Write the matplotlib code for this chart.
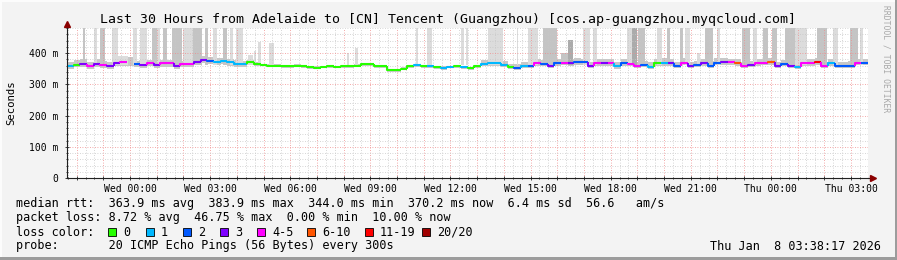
import numpy as np
import matplotlib
matplotlib.use("Agg")
import matplotlib.pyplot as plt
from matplotlib.patches import Rectangle
from matplotlib.ticker import FixedLocator, FuncFormatter

plt.rcParams['font.family'] = ['DejaVu Sans Mono']

# %% data
title = "Last 30 Hours from Adelaide to [CN] Tencent (Guangzhou) [cos.ap-guangzhou.myqcloud.com]"
end_hour = 27 + 38 / 60 + 17 / 3600      # Thu 03:38:17, hours after Wed 00:00
span_hours = 30
step_hours = 0.25

nan = np.nan
median_ms = [
    357, 363, 365, 358, 366, 362, 358, 368, 370, nan,
    366, 363, 367, 362, 367, 367, 358, 365, 364, 372,
    379, 376, 372, 373, 371, 366, 366, 370, 365, 362,
    360, 360, 357, 357, 360, 358, 355, 353, 356, 358,
    356, 358, 358, 360, 365, 365, 357, 358, 345, 345,
    350, 357, 362, 358, 357, 355, 352, 356, 358, 355,
    351, 358, 366, 367, 367, 362, 355, 352, 360, 360,
    367, 365, 358, 368, 368, 367, 370, 370, 358, 368,
    368, 367, 357, 367, 365, 358, 362, 356, 368, 368,
    367, 359, 369, 358, 362, 367, 359, 369, 370, 370,
    367, 358, 362, 367, 369, 370, 359, 365, 359, 356,
    367, 367, 370, 359, 367, 358, 358, 360, 369, 368,
]
loss_class = [
    1, 0, 3, 4, 3, 4, 3, 3, 4, 0,
    2, 3, 4, 3, 4, 4, 3, 4, 4, 3,
    3, 2, 1, 1, 1, 1, 1, 0, 0, 0,
    0, 0, 0, 0, 0, 0, 0, 0, 0, 0,
    0, 0, 0, 0, 0, 0, 0, 0, 0, 0,
    0, 0, 1, 0, 1, 0, 1, 1, 0, 1,
    0, 0, 1, 1, 1, 1, 0, 2, 1, 2,
    4, 2, 3, 2, 4, 3, 2, 2, 3, 4,
    3, 4, 1, 2, 4, 4, 2, 1, 0, 1,
    3, 2, 4, 3, 2, 3, 2, 2, 3, 4,
    5, 4, 3, 4, 4, 5, 3, 2, 3, 1,
    4, 4, 6, 4, 1, 2, 2, 2, 4, 2,
]
smoke_hi = [
    372, 378, 380, 372, 380, 376, 372, 386, 390, 388,
    376, 373, 377, 372, 377, 377, 370, 375, 374, 384,
    390, 388, 384, 384, 382, 378, 376, 378, 370, 366,
    364, 364, 361, 361, 364, 362, 359, 357, 360, 362,
    360, 362, 362, 364, 369, 369, 361, 362, 350, 350,
    355, 361, 366, 362, 361, 359, 357, 360, 362, 359,
    356, 362, 378, 379, 380, 374, 366, 364, 372, 372,
    380, 378, 370, 382, 384, 381, 383, 382, 372, 380,
    380, 381, 370, 380, 378, 372, 376, 370, 382, 384,
    380, 372, 383, 372, 376, 382, 373, 384, 384, 382,
    380, 372, 376, 380, 382, 384, 372, 378, 373, 370,
    381, 382, 384, 372, 380, 372, 371, 374, 382, 381,
]
smoke_lo = [
    350, 355, 355, 350, 356, 352, 350, 358, 360, 358,
    356, 353, 357, 352, 356, 356, 350, 355, 354, 362,
    368, 366, 362, 364, 360, 356, 356, 362, 360, 357,
    355, 355, 352, 352, 355, 353, 350, 348, 351, 353,
    351, 353, 353, 355, 360, 360, 352, 353, 340, 340,
    345, 352, 356, 353, 352, 350, 347, 351, 353, 350,
    346, 353, 358, 360, 360, 355, 349, 346, 353, 353,
    360, 358, 351, 360, 361, 360, 362, 362, 351, 360,
    360, 360, 350, 360, 358, 351, 355, 349, 360, 360,
    360, 352, 361, 351, 355, 360, 352, 361, 362, 362,
    360, 351, 355, 360, 361, 362, 352, 358, 352, 349,
    360, 360, 362, 352, 360, 351, 351, 353, 361, 361,
]

# high-latency smoke columns (hours after Wed 00:00), top in ms, shade 0 light .. 2 dark
spike_start = [-1.76, -1.35, -1.13, -0.68, -0.45, 0.11, 0.37, 0.82, 1.01, 1.23, 1.57, 1.98, 2.36,
               2.81, 3.11, 3.48, 3.74, 3.97, 4.42, 4.64, 4.79, 5.20, 8.13, 8.42, 10.71, 11.12,
               12.40, 12.58, 13.41, 14.49, 14.90, 15.47, 16.14, 16.40, 16.96, 17.34, 18.61,
               18.80, 19.02, 19.74, 20.11, 20.60, 20.78, 21.23, 21.53, 21.98, 22.92, 23.33,
               23.70, 24.04, 24.53, 24.90, 25.73, 26.33, 26.96, 27.34]
spike_end = [-1.69, -1.24, -0.94, -0.45, -0.08, 0.26, 0.63, 1.01, 1.12, 1.38, 1.95, 2.36, 2.69,
             2.92, 3.26, 3.63, 3.86, 4.23, 4.60, 4.72, 4.90, 5.39, 8.20, 8.54, 10.78, 11.31,
             12.51, 12.66, 13.97, 14.53, 15.28, 15.99, 16.40, 16.59, 17.22, 17.49, 18.80,
             18.99, 19.28, 19.92, 20.22, 20.71, 20.97, 21.34, 21.83, 22.09, 23.22, 23.48,
             23.89, 24.23, 24.90, 25.35, 26.10, 26.52, 27.26, 27.45]
spike_top = [480, 480, 480, 480, 390, 480, 480, 480, 480, 480, 480, 480, 480,
             480, 480, 480, 480, 480, 394, 407, 436, 431, 400, 416, 480, 480,
             480, 480, 480, 480, 480, 480, 400, 441, 480, 480, 480,
             480, 480, 480, 480, 480, 480, 400, 480, 480, 480, 480,
             480, 480, 480, 480, 480, 480, 480, 480]
spike_shade = [1, 0, 1, 0, 0, 0, 0, 1, 0, 1, 1, 0, 1,
               1, 0, 1, 0, 0, 0, 0, 0, 0, 0, 0, 0, 0,
               0, 0, 0, 0, 0, 1, 1, 2, 0, 0, 0,
               2, 1, 0, 1, 1, 0, 0, 1, 0, 1, 0,
               1, 1, 1, 0, 1, 0, 1, 0]

loss_labels = ["0", "1", "2", "3", "4-5", "6-10", "11-19", "20/20"]
loss_colors = ["#26ff00", "#00b8ff", "#0059ff", "#7e00ff", "#ff00ff", "#ff5500", "#ff0000", "#a10000"]
shade_colors = ["#dcdcdc", "#c4c4c4", "#ababab"]

x_label_hours = [0, 3, 6, 9, 12, 15, 18, 21, 24, 27]
x_label_text = ["Wed 00:00", "Wed 03:00", "Wed 06:00", "Wed 09:00", "Wed 12:00",
                "Wed 15:00", "Wed 18:00", "Wed 21:00", "Thu 00:00", "Thu 03:00"]

legend_rtt = "median rtt:  363.9 ms avg  383.9 ms max  344.0 ms min  370.2 ms now  6.4 ms sd  56.6   am/s"
legend_loss = "packet loss: 8.72 % avg  46.75 % max  0.00 % min  10.00 % now"
legend_probe = "probe:       20 ICMP Echo Pings (56 Bytes) every 300s"
stamp = "Thu Jan  8 03:38:17 2026"

# %% figure
W, H = 897, 260
fig = plt.figure(figsize=(W / 100, H / 100), dpi=100)
fig.patch.set_facecolor("#f3f3f3")

def px(x, y):
    return x / W, 1 - y / H

ax_l, ax_r, ax_t, ax_b = 67, 868, 28, 178
ax = fig.add_axes([ax_l / W, 1 - ax_b / H, (ax_r - ax_l) / W, (ax_b - ax_t) / H])
ax.set_facecolor("white")

start_hour = end_hour - span_hours
t = start_hour + step_hours * np.arange(len(median_ms))
med = np.array(median_ms, dtype=float)

# smoke body
ax.fill_between(np.append(t, t[-1] + step_hours), np.append(smoke_lo, smoke_lo[-1]),
                np.append(smoke_hi, smoke_hi[-1]), step="post", color="#c8c8c8", lw=0, zorder=1)
# tall smoke columns
for s, e, top, sh in zip(spike_start, spike_end, spike_top, spike_shade):
    ax.bar(s, top - 362, width=e - s, bottom=362, align="edge", color=shade_colors[sh], lw=0, zorder=1)

# median line coloured by loss
for i in range(len(med)):
    if np.isnan(med[i]):
        continue
    c = loss_colors[loss_class[i]]
    xs = [t[i], t[i] + step_hours]
    ys = [med[i], med[i]]
    if i > 0 and not np.isnan(med[i - 1]):
        xs = [t[i]] + xs
        ys = [med[i - 1]] + ys
    ax.plot(xs, ys, color=c, lw=1.5, solid_capstyle="butt", zorder=4)

ax.set_xlim(start_hour, end_hour)
ax.set_ylim(0, 480)

# grid
ax.xaxis.set_major_locator(FixedLocator(np.arange(-2, 28)))
ax.xaxis.set_minor_locator(FixedLocator(np.arange(-7, 84) / 3))
ax.yaxis.set_major_locator(FixedLocator([0, 100, 200, 300, 400]))
ax.yaxis.set_minor_locator(FixedLocator(np.arange(0, 481, 20)))
lbl = dict(zip(x_label_hours, x_label_text))
ax.xaxis.set_major_formatter(FuncFormatter(lambda v, p: lbl.get(int(round(v)), "")))
ax.yaxis.set_major_formatter(FuncFormatter(lambda v, p: "0" if v == 0 else f"{int(v)} m"))
ax.grid(which="minor", color="#c8c8c8", lw=0.6, ls=(0, (1, 2)), zorder=2)
ax.grid(which="major", color="#f08c8c", lw=0.6, ls=(0, (1, 2)), zorder=2)
ax.set_axisbelow(False)
ax.tick_params(which="both", direction="inout", color="#202020", width=0.6)
ax.tick_params(which="major", length=3, labelsize=7, pad=3)
ax.tick_params(which="minor", length=1.5)
ax.tick_params(axis="y", which="major", pad=5)

for s in ["top", "right"]:
    ax.spines[s].set_visible(False)
for s in ["left", "bottom"]:
    ax.spines[s].set_color("#202020")
    ax.spines[s].set_linewidth(0.8)
    ax.spines[s].set_zorder(5)

# axis arrows
ax.plot([0, 0], [1, 1.02], transform=ax.transAxes, color="#202020", lw=0.8, clip_on=False)
ax.plot([0], [1.025], marker="^", ms=4, color="#8b0000", transform=ax.transAxes, clip_on=False)
ax.plot([1, 1.004], [0, 0], transform=ax.transAxes, color="#202020", lw=0.8, clip_on=False)
ax.plot([1.006], [0], marker=">", ms=4, color="#8b0000", transform=ax.transAxes, clip_on=False)

# texts
fig.text(*px(448, 19), title, ha="center", va="center", fontsize=9.55)
fig.text(*px(11, 103), "Seconds", rotation=90, ha="center", va="center", fontsize=7.7)
fig.text(*px(886, 59), "RRDTOOL / TOBI OETIKER", rotation=270, ha="center", va="center",
         fontsize=5.8, color="#a8a8a8")

fs = 8.45
fig.text(*px(16, 204), legend_rtt, ha="left", va="center", fontsize=fs)
fig.text(*px(16, 218), legend_loss, ha="left", va="center", fontsize=fs)
fig.text(*px(16, 232), "loss color:", ha="left", va="center", fontsize=fs)
sw_x = [108, 146, 183, 220, 257, 307, 365, 422]
for x, c, s in zip(sw_x, loss_colors, loss_labels):
    fig.add_artist(Rectangle(px(x, 236), 8 / W, 8 / H, transform=fig.transFigure,
                             facecolor=c, edgecolor="black", lw=0.6))
    fig.text(*px(x + 15, 232), s, ha="left", va="center", fontsize=fs)
fig.text(*px(16, 246), legend_probe, ha="left", va="center", fontsize=fs)
fig.text(*px(881, 246), stamp, ha="right", va="center", fontsize=fs)

# frame shading
fig.add_artist(Rectangle((0, 1 - 2 / H), 1, 2 / H, transform=fig.transFigure, color="#fcfcfc", lw=0))
fig.add_artist(Rectangle((0, 0), 2 / W, 1, transform=fig.transFigure, color="#fcfcfc", lw=0))
fig.add_artist(Rectangle((0, 0), 1, 3 / H, transform=fig.transFigure, color="#9c9c9c", lw=0))
fig.add_artist(Rectangle((1 - 2 / W, 0), 2 / W, 1, transform=fig.transFigure, color="#9c9c9c", lw=0))

fig.savefig("out.png", dpi=100, facecolor=fig.get_facecolor())
